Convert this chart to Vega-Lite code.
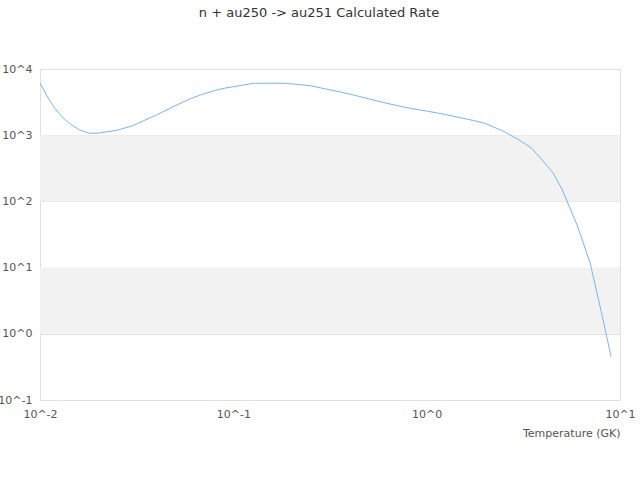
{
  "$schema": "https://vega.github.io/schema/vega-lite/v6.json",
  "width": 580,
  "height": 331,
  "autosize": {"type": "none"},
  "padding": {"left": 40, "top": 69, "right": 20, "bottom": 80},
  "background": "white",
  "title": {
    "text": "n + au250 -> au251 Calculated Rate",
    "font": "DejaVu Sans",
    "fontSize": 13,
    "fontWeight": "normal",
    "color": "#333333",
    "anchor": "middle",
    "dx": -11,
    "offset": 43
  },
  "config": {
    "view": {"stroke": "#e0e0e0", "strokeWidth": 1},
    "font": "DejaVu Sans"
  },
  "datasets": {
    "bands": [
      {"lo": 100, "hi": 1000},
      {"lo": 1, "hi": 10}
    ],
    "rate": [
      {"T": 0.01, "R": 6150},
      {"T": 0.011, "R": 3650},
      {"T": 0.012, "R": 2490},
      {"T": 0.013, "R": 1895},
      {"T": 0.014, "R": 1560},
      {"T": 0.015, "R": 1350},
      {"T": 0.016, "R": 1197},
      {"T": 0.018, "R": 1069},
      {"T": 0.02, "R": 1074},
      {"T": 0.025, "R": 1185},
      {"T": 0.03, "R": 1387},
      {"T": 0.04, "R": 2020},
      {"T": 0.05, "R": 2780},
      {"T": 0.06, "R": 3567},
      {"T": 0.07, "R": 4200},
      {"T": 0.08, "R": 4730},
      {"T": 0.09, "R": 5130},
      {"T": 0.1, "R": 5400},
      {"T": 0.11, "R": 5660},
      {"T": 0.12, "R": 5910},
      {"T": 0.13, "R": 6080},
      {"T": 0.15, "R": 6090},
      {"T": 0.16, "R": 6090},
      {"T": 0.18, "R": 6080},
      {"T": 0.2, "R": 5970},
      {"T": 0.25, "R": 5595},
      {"T": 0.3, "R": 5000},
      {"T": 0.35, "R": 4560},
      {"T": 0.4, "R": 4180},
      {"T": 0.45, "R": 3830},
      {"T": 0.5, "R": 3550},
      {"T": 0.6, "R": 3110},
      {"T": 0.7, "R": 2810},
      {"T": 0.8, "R": 2585},
      {"T": 0.9, "R": 2435},
      {"T": 1, "R": 2317},
      {"T": 1.25, "R": 2057},
      {"T": 1.5, "R": 1833},
      {"T": 1.75, "R": 1662},
      {"T": 2, "R": 1510},
      {"T": 2.5, "R": 1145},
      {"T": 3, "R": 851},
      {"T": 3.5, "R": 632},
      {"T": 4, "R": 407},
      {"T": 4.5, "R": 270},
      {"T": 5, "R": 155},
      {"T": 6, "R": 44},
      {"T": 7, "R": 11.9},
      {"T": 8, "R": 2.15},
      {"T": 9, "R": 0.45}
    ]
  },
  "layer": [
    {
      "data": {"name": "bands"},
      "mark": {"type": "rect", "color": "#f2f2f2"},
      "encoding": {
        "y": {
          "field": "lo",
          "type": "quantitative",
          "scale": {"type": "log", "domain": [0.1, 10000], "nice": false},
          "title": null,
          "axis": {
            "values": [0.1, 1, 10, 100, 1000, 10000],
            "labelExpr": "'10^' + round(log(datum.value)/LN10)",
            "grid": true,
            "gridColor": "#e0e0e0",
            "domain": false,
            "ticks": false,
            "labelFlush": false,
            "labelFont": "DejaVu Sans",
            "labelFontSize": 11,
            "labelColor": "#555555",
            "labelPadding": 8
          }
        },
        "y2": {"field": "hi"}
      }
    },
    {
      "data": {"name": "rate"},
      "mark": {"type": "line", "color": "#7cb5ec", "strokeWidth": 1, "clip": true},
      "encoding": {
        "x": {
          "field": "T",
          "type": "quantitative",
          "scale": {"type": "log", "domain": [0.01, 10], "nice": false},
          "title": "Temperature (GK)",
          "axis": {
            "values": [0.01, 0.1, 1, 10],
            "labelExpr": "'10^' + round(log(datum.value)/LN10)",
            "grid": false,
            "domain": true,
            "domainColor": "#e0e0e0",
            "ticks": false,
            "labelFlush": false,
            "labelOverlap": false,
            "labelFont": "DejaVu Sans",
            "labelFontSize": 11,
            "labelColor": "#555555",
            "labelPadding": 8,
            "titleFont": "DejaVu Sans",
            "titleFontSize": 11,
            "titleFontWeight": "normal",
            "titleColor": "#555555",
            "titleAnchor": "end",
            "titlePadding": 8
          }
        },
        "y": {
          "field": "R",
          "type": "quantitative",
          "title": null
        }
      }
    }
  ]
}
